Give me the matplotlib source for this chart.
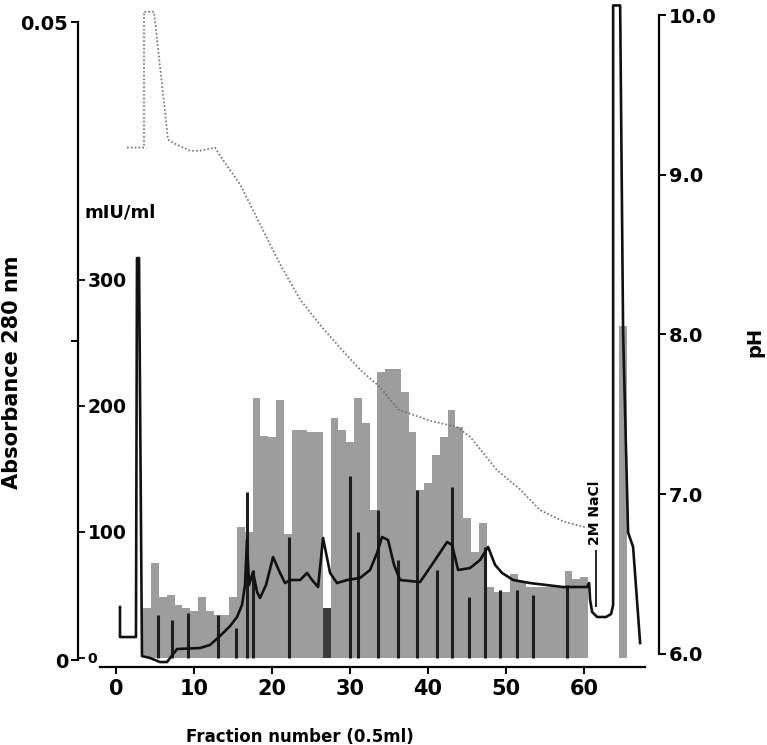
import matplotlib.pyplot as plt

plt.rcParams['font.family'] = 'DejaVu Sans'
plt.rcParams['font.weight'] = 'bold'

# activity per fraction (mIU/ml), one bar per fraction
frac = list(range(4, 61)) + [65]
miu = [40, 75, 48, 50, 42, 40, 37, 48, 37, 34, 34, 48, 104, 100,
       206, 176, 175, 205, 98, 181, 181, 179, 179, 40, 190, 181, 171, 206, 186, 117,
       227, 229, 229, 211, 179, 133, 139, 161, 175, 197, 183, 111, 84, 107,
       56, 52, 52, 67, 61, 56, 56, 56, 56, 56, 69, 63, 64,
       263]
dark_fracs = [27]

# recorder event marks (fraction, top in mIU/ml units)
mark_f = [5.4, 7.2, 9.2, 13.1, 15.4, 16.8, 17.6, 22.2, 30.0, 31.0, 33.6,
          36.2, 38.6, 41.2, 43.1, 45.3, 47.3, 49.2, 51.4, 53.5, 57.8]
mark_top = [34, 30, 36, 34, 24, 132, 70, 96, 144, 100, 117,
            78, 133, 70, 136, 48, 88, 54, 54, 50, 58]

# absorbance 280 nm trace (x = fraction, y in 1/1000 absorbance units)
a_x = [0.51, 0.51, 2.56, 2.69, 2.95, 3.33, 4.36, 5.64, 6.54, 7.82, 10.77, 12.05,
       13.33, 14.62, 15.51, 16.15, 16.54, 16.79, 17.05, 17.56, 18.08, 18.46,
       19.23, 20.13, 21.03, 21.67, 22.31, 23.59, 24.49, 25.13, 25.90, 26.54,
       27.44, 28.33, 29.62, 31.28, 32.56, 33.46, 34.10, 34.87, 35.64, 36.41,
       38.97, 40.64, 42.44, 43.08, 43.85, 45.38, 46.67, 47.69, 48.59, 49.49,
       50.90, 53.08, 57.31, 60.38, 60.64, 60.77, 61.03, 61.67, 62.82, 63.46,
       63.72, 63.72, 64.62, 65.00, 65.64, 66.28, 67.18]
a_y = [4.15, 1.80, 1.80, 31.5, 31.5, 0.31, 0.16, -0.16, -0.16, 0.86, 0.94, 1.18,
       1.88, 2.66, 3.37, 4.31, 5.88, 9.40, 5.88, 6.90, 5.33, 4.86,
       5.88, 8.07, 6.82, 6.03, 6.27, 6.27, 6.82, 6.27, 5.72, 9.56,
       6.82, 6.03, 6.27, 6.43, 7.05, 8.39, 9.64, 9.40, 7.45, 6.27,
       6.11, 7.60, 9.25, 9.01, 7.05, 7.21, 7.84, 8.86, 7.45, 6.82,
       6.27, 6.03, 5.72, 5.72, 6.03, 4.70, 3.76, 3.37, 3.37, 3.61,
       4.31, 51.3, 51.3, 25.6, 10.0, 8.86, 1.33]

# pH gradient
ph_x = [1.41, 3.59, 3.59, 4.87, 6.67, 7.31, 9.49, 10.77, 12.69, 13.33, 15.90,
        18.46, 21.03, 23.59, 26.15, 29.03, 31.28, 33.85, 36.15, 40.26, 43.72,
        45.38, 48.85, 51.79, 54.36, 57.31, 60.38]
ph_y = [9.17, 9.17, 10.02, 10.02, 9.22, 9.20, 9.15, 9.15, 9.17, 9.12, 8.94,
        8.69, 8.44, 8.22, 8.06, 7.90, 7.78, 7.67, 7.53, 7.46, 7.42,
        7.36, 7.15, 7.03, 6.90, 6.83, 6.79]

fig = plt.figure(figsize=(7.67, 7.45), dpi=100)
ax = fig.add_axes([78 / 767, 1 - 660 / 745, 581 / 767, 645 / 745])
ax_abs = ax.twinx()
ax_ph = ax.twinx()

# bars + marks (mIU/ml)
bar_colors = ['#3c3c3c' if f in dark_fracs else '#9d9d9d' for f in frac]
ax.bar(frac, miu, width=1.0, color=bar_colors, linewidth=0, zorder=1)
ax.vlines(mark_f, 0, mark_top, color='#1e1e1e', linewidth=2.2, zorder=2)
ax.set_xlim(-4.87, 69.6)
ax.set_ylim(-1.6, 510)

for s in ['top', 'left', 'right']:
    ax.spines[s].set_visible(False)
ax.spines['bottom'].set_position(('outward', 5))
ax.spines['bottom'].set_bounds(-2.05, 67.8)
ax.spines['bottom'].set_linewidth(1.6)
ax.set_xticks(range(0, 61, 10))
ax.tick_params(axis='x', direction='out', length=5, width=1.4, labelsize=15, pad=4)

# mIU/ml ticks sit on the right side of the left axis line
ax.yaxis.tick_right()
ax.spines['right'].set_position(('axes', 0))
ax.set_yticks([0, 100, 200, 300], ['0', '100', '200', '300'])
ax.tick_params(axis='y', direction='out', length=5, width=1.3, labelsize=13.5, pad=2)
ax.get_yticklabels()[0].set_fontsize(10)
ax.text(-4.0, 353, 'mIU/ml', fontsize=13, fontweight='bold', ha='left', va='center')

ax.set_xlabel('Fraction number (0.5ml)', fontsize=12, fontweight='bold')
ax.xaxis.set_label_coords(0.382, -0.105)

# NaCl step marker
ax.vlines(61.5, 40.5, 85.7, color='black', linewidth=1.2)
ax.text(61.4, 115, '2M NaCl', rotation=90, fontsize=10, fontweight='bold',
        ha='center', va='center')

# absorbance axis
ax_abs.plot(a_x, [y / 1000 for y in a_y], color='#111111',
            linewidth=1.9, clip_on=False, zorder=3)
ax_abs.set_ylim(0, 0.05055)
ax_abs.yaxis.tick_left()
ax_abs.yaxis.set_label_position('left')
for s in ['top', 'bottom', 'right']:
    ax_abs.spines[s].set_visible(False)
ax_abs.spines['left'].set_bounds(0, 0.05)
ax_abs.spines['left'].set_linewidth(1.6)
ax_abs.set_yticks([0, 0.025, 0.05], ['0', '', '0.05'])
ax_abs.tick_params(axis='y', direction='out', length=5, width=1.4, labelsize=14, pad=2)
ax_abs.set_ylabel('Absorbance 280 nm', fontsize=15, fontweight='bold')
ax_abs.yaxis.set_label_coords(-0.0964, 0.4465)

# pH axis
ax_ph.plot(ph_x, ph_y, color='#6f6f6f', linewidth=1.2, linestyle=(0, (1, 1.3)),
           clip_on=False, zorder=4)
ax_ph.set_ylim(5.962, 10.0)
for s in ['top', 'bottom', 'left']:
    ax_ph.spines[s].set_visible(False)
ax_ph.spines['right'].set_bounds(6.0, 10.0)
ax_ph.spines['right'].set_linewidth(1.6)
ax_ph.set_yticks([6, 7, 8, 9, 10], ['6.0', '7.0', '8.0', '9.0', '10.0'])
ax_ph.tick_params(axis='y', direction='out', length=5, width=1.4, labelsize=14, pad=2)
ax_ph.set_ylabel('pH', fontsize=14, fontweight='bold')
ax_ph.yaxis.set_label_coords(1.148, 0.493)

fig.savefig('out.png', dpi=100)
